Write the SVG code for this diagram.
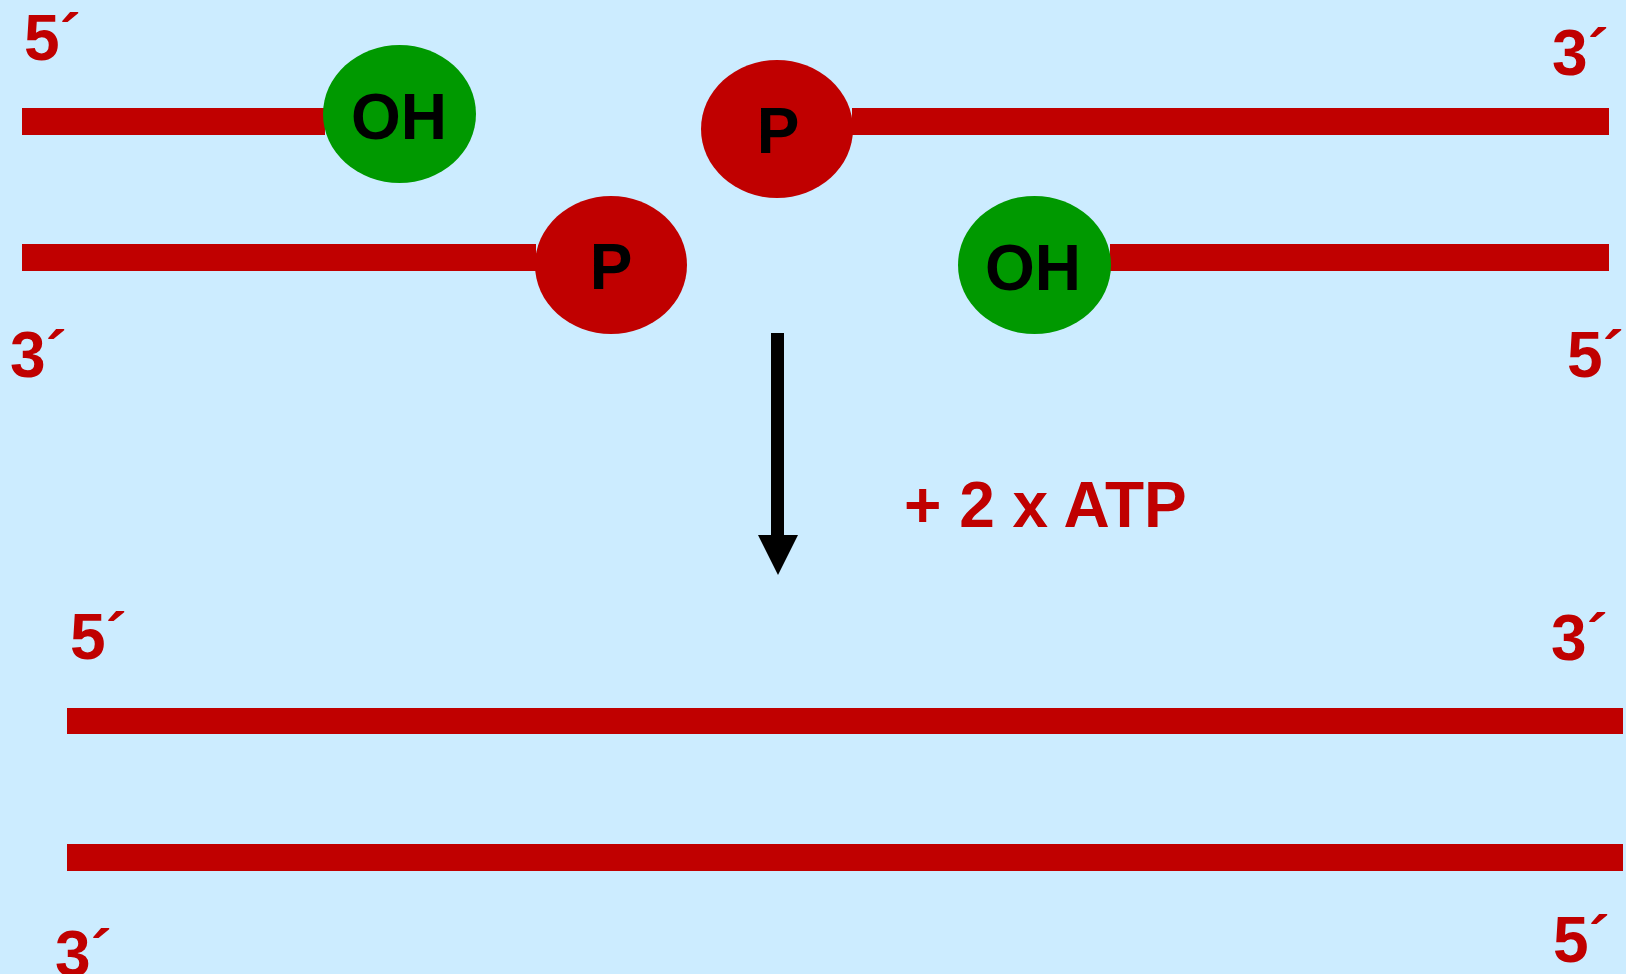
<svg xmlns="http://www.w3.org/2000/svg" width="1626" height="974" viewBox="0 0 1626 974">
  <style>
    .strand { fill: #C00000; }
    .end { font-family: "Liberation Sans", Arial, sans-serif; font-weight: bold; font-size: 64px; fill: #C00000; }
    .lbl { font-family: "Liberation Sans", Arial, sans-serif; font-weight: bold; font-size: 64px; fill: #000000; text-anchor: middle; }
    .oh { fill: #009900; }
    .p { fill: #C00000; }
  </style>
  <rect x="0" y="0" width="1626" height="974" fill="#CCECFF"/>

  <g id="strands">
    <rect id="strand-top-left" class="strand" x="22" y="108" width="303" height="27"/>
    <rect id="strand-top-right" class="strand" x="852" y="108" width="757" height="27"/>
    <rect id="strand-mid-left" class="strand" x="22" y="244" width="514" height="27"/>
    <rect id="strand-mid-right" class="strand" x="1110" y="244" width="499" height="27"/>
    <rect id="strand-bottom-1" class="strand" x="67" y="708" width="1556" height="26"/>
    <rect id="strand-bottom-2" class="strand" x="67" y="844" width="1556" height="27"/>
  </g>

  <g id="node-oh-top">
    <ellipse class="oh" cx="399.5" cy="114" rx="76.5" ry="69"/>
    <text class="lbl" x="399" y="139">OH</text>
  </g>
  <g id="node-p-top">
    <ellipse class="p" cx="777" cy="129" rx="76" ry="69"/>
    <text class="lbl" x="778" y="153">P</text>
  </g>
  <g id="node-p-mid">
    <ellipse class="p" cx="611" cy="265" rx="76" ry="69"/>
    <text class="lbl" x="611" y="289">P</text>
  </g>
  <g id="node-oh-mid">
    <ellipse class="oh" cx="1034.5" cy="265" rx="76.5" ry="69"/>
    <text class="lbl" x="1033" y="290">OH</text>
  </g>

  <g id="connectors">
    <rect x="771" y="333" width="13" height="203" fill="#000000"/>
    <polygon points="758,535 798,535 778,575" fill="#000000"/>
  </g>

  <g id="labels">
    <text class="end" x="24" y="60">5´</text>
    <text class="end" x="1552" y="75">3´</text>
    <text class="end" x="10" y="377">3´</text>
    <text class="end" x="1567" y="377">5´</text>
    <text class="end" x="904" y="527">+ 2 x ATP</text>
    <text class="end" x="70" y="659">5´</text>
    <text class="end" x="1551" y="660">3´</text>
    <text class="end" x="55" y="976">3´</text>
    <text class="end" x="1553" y="962">5´</text>
  </g>
</svg>
